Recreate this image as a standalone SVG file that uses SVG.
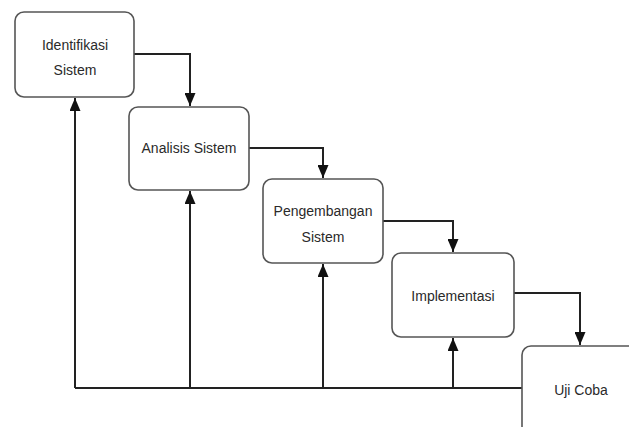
<svg xmlns="http://www.w3.org/2000/svg" width="629" height="427" viewBox="0 0 629 427">
<style>
.box{fill:#fff;stroke:#555;stroke-width:1.6}
.lbl{font-family:"Liberation Sans",Arial,sans-serif;font-size:14px;fill:#2a2a2a;text-anchor:middle;dominant-baseline:central}
.con{fill:none;stroke:#222;stroke-width:2}
</style>
<defs>
<marker id="ah" markerWidth="13" markerHeight="11" refX="13" refY="5.5" orient="auto" markerUnits="userSpaceOnUse" viewBox="0 0 13 11">
<path d="M0,0 L13,5.5 L0,11 Z" fill="#111"/>
</marker>
</defs>
<rect width="629" height="427" fill="#fff"/>
<g id="connectors">
<polyline class="con" points="134,54 190,54 190,106" marker-end="url(#ah)"/>
<polyline class="con" points="249,148 323,148 323,178" marker-end="url(#ah)"/>
<polyline class="con" points="383,221 453,221 453,252" marker-end="url(#ah)"/>
<polyline class="con" points="514,293 580,293 580,345" marker-end="url(#ah)"/>
<polyline class="con" points="522,388 75,388"/>
<line class="con" x1="75" y1="388" x2="75" y2="98" marker-end="url(#ah)"/>
<line class="con" x1="190" y1="388" x2="190" y2="191" marker-end="url(#ah)"/>
<line class="con" x1="323" y1="388" x2="323" y2="264" marker-end="url(#ah)"/>
<line class="con" x1="453" y1="388" x2="453" y2="338" marker-end="url(#ah)"/>
</g>
<g id="identifikasi">
<rect class="box" x="15" y="12" width="119" height="85" rx="9"/>
<text class="lbl" x="75" y="45">Identifikasi</text>
<text class="lbl" x="75" y="70">Sistem</text>
</g>
<g id="analisis">
<rect class="box" x="129" y="107" width="120" height="83" rx="9"/>
<text class="lbl" x="189" y="148">Analisis Sistem</text>
</g>
<g id="pengembangan">
<rect class="box" x="263" y="179" width="120" height="84" rx="9"/>
<text class="lbl" x="323" y="211">Pengembangan</text>
<text class="lbl" x="323" y="237">Sistem</text>
</g>
<g id="implementasi">
<rect class="box" x="392" y="253" width="122" height="84" rx="9"/>
<text class="lbl" x="453" y="296">Implementasi</text>
</g>
<g id="ujicoba">
<rect class="box" x="522" y="346" width="130" height="90" rx="9"/>
<text class="lbl" x="581" y="390">Uji Coba</text>
</g>
</svg>
